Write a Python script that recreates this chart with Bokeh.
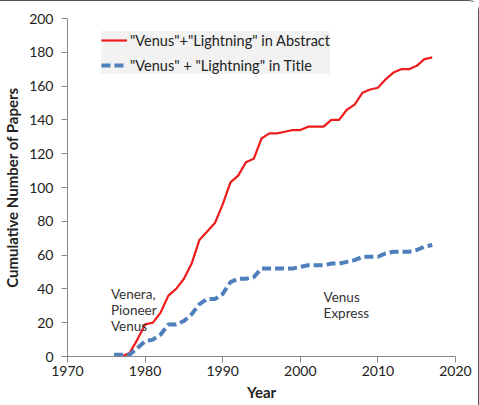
from bokeh.plotting import figure
from bokeh.models import Legend, LegendItem, FixedTicker, ColumnDataSource, InlineStyleSheet
from bokeh.core.properties import value
from bokeh.embed import file_html
from bokeh.resources import INLINE

years = list(range(1976, 2018))
abstract_counts = [0, 0, 2, 10, 19, 20, 26, 36, 40, 46, 55, 69, 74, 79, 90, 103, 107, 115, 117, 129,
                   132, 132, 133, 134, 134, 136, 136, 136, 140, 140, 146, 149, 156, 158, 159, 164, 168,
                   170, 170, 172, 176, 177]
title_counts = [1, 1, 1, 5, 9, 10, 13, 19, 19, 21, 25, 31, 34, 34, 37, 44, 46, 46, 47, 52,
                52, 52, 52, 52, 53, 54, 54, 54, 55, 55, 56, 57, 59, 59, 59, 61, 62, 62, 62, 63, 65, 66]
x_ticks = [1970, 1980, 1990, 2000, 2010, 2020]
y_ticks = list(range(0, 201, 20))
label_abstract = '"Venus"+"Lightning" in Abstract'
label_title = '"Venus" + "Lightning" in Title'
notes_x = [1975.6, 2003.0]
notes_y = [42, 40]
notes_text = ["Venera,\nPioneer\nVenus", "Venus\nExpress"]

FONT = "Lato"
AXIS_GREY = "#898989"

p = figure(width=479, height=405, output_backend="svg", toolbar_location=None,
           x_range=(1970, 2020), y_range=(0, 200),
           min_border_left=66, min_border_right=24, min_border_top=17, min_border_bottom=50)
p.outline_line_color = None
p.xgrid.visible = False
p.ygrid.visible = False

src = ColumnDataSource(dict(year=years, a=abstract_counts, t=title_counts))
r1 = p.line("year", "a", source=src, line_color="#ee1c1c", line_width=2.2)
r2 = p.line("year", "t", source=src, line_color="#4f7fbc", line_width=4, line_dash="9 4")

p.text(x=notes_x, y=notes_y, text=notes_text, text_font=value(FONT), text_font_size="13.5px",
       text_color="#333333", text_baseline="top", text_align="left", text_line_height=1.0)

for ax in (p.xaxis[0], p.yaxis[0]):
    ax.axis_line_color = AXIS_GREY
    ax.major_tick_line_color = AXIS_GREY
    ax.minor_tick_line_color = None
    ax.major_tick_in = 0
    ax.major_tick_out = 6
    ax.major_label_text_font = FONT
    ax.major_label_text_font_size = "14px"
    ax.major_label_text_color = "#222222"
    ax.axis_label_text_font = FONT
    ax.axis_label_text_font_style = "bold"
    ax.axis_label_text_font_size = "15px"
    ax.axis_label_text_color = "#222222"

p.xaxis.ticker = FixedTicker(ticks=x_ticks)
p.yaxis.ticker = FixedTicker(ticks=y_ticks)
p.xaxis.axis_label = "Year"
p.yaxis.axis_label = "Cumulative Number of Papers"
p.xaxis.major_label_standoff = 3
p.xaxis.axis_label_standoff = 4
p.yaxis.major_label_standoff = 8
p.yaxis.axis_label_standoff = 5

legend = Legend(items=[LegendItem(label=label_abstract, renderers=[r1]),
                       LegendItem(label=label_title, renderers=[r2])],
                location=(34, 282))
legend.background_fill_color = "#f2f2f2"
legend.background_fill_alpha = 1.0
legend.border_line_color = None
legend.label_text_font = FONT
legend.label_text_font_size = "14.5px"
legend.label_text_color = "#222222"
legend.glyph_width = 26
legend.glyph_height = 18
legend.label_standoff = 3
legend.spacing = 7
legend.padding = 12
legend.margin = 0
p.add_layout(legend, "center")

p.stylesheets.append(InlineStyleSheet(css=""":host {
  box-sizing: border-box;
  border-top: 1.2px solid #555555;
  border-right: 1.2px solid #555555;
  border-top-right-radius: 10px;
}"""))

open("out.html", "w").write(file_html(p, INLINE))
